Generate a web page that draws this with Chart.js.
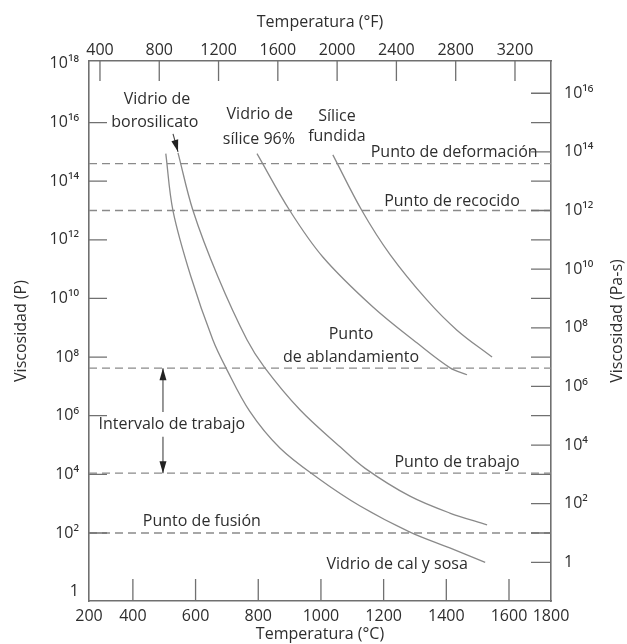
<!DOCTYPE html>
<html>
<head>
<meta charset="utf-8">
<script src="https://cdn.jsdelivr.net/npm/chart.js@4.4.0/dist/chart.umd.min.js"></script>
<style>
  html, body { margin: 0; padding: 0; background: #fff; }
</style>
</head>
<body>
<canvas id="viscChart" width="627" height="644"></canvas>
<script>
// Viscosity (P) against temperature (°C)

const sodaLimeC = [505, 528, 585, 655, 697, 773, 869, 990, 1125, 1284, 1411, 1524];
const sodaLimeP = [8.7e14, 9.8e12, 5.6e10, 3.9e8, 4.3e7, 1.4e6, 7.9e4, 7.5e3, 8.3e2, 1.07e2, 31, 10];

const boroC = [544, 592, 671, 764, 821, 933, 1061, 1141, 1284, 1411, 1530];
const boroP = [9.3e14, 9.8e12, 5.6e10, 3.9e8, 4.3e7, 1.6e6, 8.7e4, 1.6e4, 1.8e3, 4.8e2, 1.9e2];

const silica96C = [796, 901, 1006, 1166, 1307, 1412, 1466];
const silica96P = [8.7e14, 9.8e12, 2.6e11, 5.1e9, 3.0e8, 4.3e7, 2.5e7];

const fusedC = [1038, 1131, 1220, 1338, 1434, 1546];
const fusedP = [7.9e14, 9.8e12, 3.2e11, 8.9e9, 8.3e8, 1.0e8];

// reference viscosity levels (P): strain, annealing, softening, working, melting
const levelNames = ['Punto de deformación', 'Punto de recocido', 'Punto de ablandamiento', 'Punto de trabajo', 'Punto de fusión'];
const levelP = [4.0e14, 1.0e13, 4.2e7, 1.1e4, 1.0e2];

// tick labels
const tempCTicks = [200, 400, 600, 800, 1000, 1200, 1400, 1600, 1800];
const tempFTicks = [400, 800, 1200, 1600, 2000, 2400, 2800, 3200];
const viscPExp = [0, 2, 4, 6, 8, 10, 12, 14, 16, 18];
const viscPaExp = [0, 2, 4, 6, 8, 10, 12, 14, 16];

// axis ranges as printed in the scan (200 and 1800 °C sit on the frame corners)
const cMin = 260, cMax = 1734;
const fMin = 326, fMax = 3443;
const pMin = Math.pow(10, -0.32), pMax = Math.pow(10, 18.1);

const lineColor = '#8a8a8a';
const axisColor = '#707070';
const textColor = '#2e2e2e';
const fontFamily = '"Open Sans", "Noto Sans", sans-serif';

function sup(n) {
  const s = '⁰¹²³⁴⁵⁶⁷⁸⁹';
  return String(n).split('').map(d => s[+d]).join('');
}
function powLabel(e) {
  return e === 0 ? '1' : '10' + sup(e);
}
function pts(xs, ys) {
  return xs.map((x, i) => ({ x: x, y: ys[i] }));
}

const curveStyle = {
  borderColor: lineColor, borderWidth: 1.3, pointRadius: 0,
  fill: false, tension: 0.35
};

const datasets = [
  Object.assign({ label: 'Vidrio de cal y sosa', data: pts(sodaLimeC, sodaLimeP) }, curveStyle),
  Object.assign({ label: 'Vidrio de borosilicato', data: pts(boroC, boroP) }, curveStyle),
  Object.assign({ label: 'Vidrio de sílice 96%', data: pts(silica96C, silica96P) }, curveStyle),
  Object.assign({ label: 'Sílice fundida', data: pts(fusedC, fusedP) }, curveStyle)
];
levelP.forEach((v, i) => {
  datasets.push({
    label: levelNames[i],
    data: [{ x: cMin, y: v }, { x: cMax, y: v }],
    borderColor: lineColor, borderWidth: 1.3, borderDash: [8, 5],
    pointRadius: 0, fill: false
  });
});

// text placed in data units (°C, log10 P)
const notes = [
  ['Vidrio de', 477, 16.78], ['borosilicato', 470, 15.99],
  ['Vidrio de', 805, 16.27], ['sílice 96%', 802, 15.41],
  ['Sílice', 1051, 16.2], ['fundida', 1051, 15.52],
  ['Punto de deformación', 1425, 14.97],
  ['Punto de recocido', 1418, 13.3],
  ['Punto', 1096, 8.76], ['de ablandamiento', 1096, 8.0],
  ['Intervalo de trabajo', 524, 5.69],
  ['Punto de trabajo', 1434, 4.39],
  ['Punto de fusión', 620, 2.38],
  ['Vidrio de cal y sosa', 1243, 0.94]
];

function arrow(ctx, x0, y0, x1, y1) {
  const ang = Math.atan2(y1 - y0, x1 - x0);
  ctx.beginPath();
  ctx.moveTo(x0, y0);
  ctx.lineTo(x1, y1);
  ctx.stroke();
  ctx.beginPath();
  ctx.moveTo(x1, y1);
  ctx.lineTo(x1 - 12 * Math.cos(ang) + 3.5 * Math.sin(ang), y1 - 12 * Math.sin(ang) - 3.5 * Math.cos(ang));
  ctx.lineTo(x1 - 12 * Math.cos(ang) - 3.5 * Math.sin(ang), y1 - 12 * Math.sin(ang) + 3.5 * Math.cos(ang));
  ctx.closePath();
  ctx.fill();
}

const overlay = {
  id: 'overlay',
  afterDraw(chart) {
    const { ctx, chartArea: a, scales } = chart;
    const x = scales.x, xF = scales.xF, y = scales.y, yPa = scales.yPa;
    ctx.save();

    // inward tick marks
    ctx.strokeStyle = axisColor;
    ctx.lineWidth = 1.3;
    ctx.beginPath();
    tempCTicks.forEach(v => {
      if (v <= cMin || v >= cMax) return;
      const px = x.getPixelForValue(v);
      ctx.moveTo(px, a.bottom); ctx.lineTo(px, a.bottom - 22);
    });
    tempFTicks.forEach(v => {
      const px = xF.getPixelForValue(v);
      ctx.moveTo(px, a.top); ctx.lineTo(px, a.top + 20);
    });
    viscPExp.forEach(e => {
      if (e === 0 || e === 18) return;
      const py = y.getPixelForValue(Math.pow(10, e));
      ctx.moveTo(a.left, py); ctx.lineTo(a.left + 18, py);
    });
    for (let e = 0; e <= 16; e++) {
      const py = yPa.getPixelForValue(Math.pow(10, e));
      ctx.moveTo(a.right, py); ctx.lineTo(a.right - 20, py);
    }
    ctx.stroke();

    // labels inside the plot
    ctx.fillStyle = textColor;
    ctx.font = '16px ' + fontFamily;
    ctx.textAlign = 'center';
    ctx.textBaseline = 'middle';
    notes.forEach(n => {
      ctx.fillText(n[0], x.getPixelForValue(n[1]), y.getPixelForValue(Math.pow(10, n[2])));
    });

    // arrows
    ctx.strokeStyle = '#444';
    ctx.fillStyle = '#222';
    ctx.lineWidth = 1.1;
    const bx = x.getPixelForValue(boroC[0]), by = y.getPixelForValue(boroP[0]);
    arrow(ctx, bx - 5, by - 19, bx, by - 1);
    const ax = x.getPixelForValue(496);
    arrow(ctx, ax, y.getPixelForValue(Math.pow(10, 6.13)), ax, y.getPixelForValue(levelP[2]));
    arrow(ctx, ax, y.getPixelForValue(Math.pow(10, 5.28)), ax, y.getPixelForValue(levelP[3]));

    // right-hand axis title, reading bottom to top
    ctx.fillStyle = textColor;
    ctx.translate(617, (a.top + a.bottom) / 2 - 10);
    ctx.rotate(-Math.PI / 2);
    ctx.fillText('Viscosidad (Pa-s)', 0, 0);
    ctx.restore();
  }
};

const tickFont = { family: fontFamily, size: 16 };
const titleFont = { family: fontFamily, size: 16 };

new Chart(document.getElementById('viscChart'), {
  type: 'line',
  data: { datasets: datasets },
  plugins: [overlay],
  options: {
    responsive: false,
    animation: false,
    layout: { padding: 0 },
    plugins: { legend: { display: false }, tooltip: { enabled: false } },
    scales: {
      x: {
        type: 'linear', position: 'bottom', min: cMin, max: cMax,
        afterBuildTicks: s => { s.ticks = tempCTicks.map(v => ({ value: Math.min(Math.max(v, cMin), cMax) })); },
        afterFit: s => { s.height = 43; },
        ticks: { color: textColor, font: tickFont, padding: 6, maxRotation: 0, autoSkip: false,
          callback: (v, i) => String(tempCTicks[i]) },
        grid: { display: false, drawTicks: false },
        border: { display: true, color: axisColor, width: 1.6 },
        title: { display: true, text: 'Temperatura (°C)', color: textColor, font: titleFont, padding: { top: 0, bottom: 0 } }
      },
      xF: {
        type: 'linear', position: 'top', min: fMin, max: fMax,
        afterBuildTicks: s => { s.ticks = tempFTicks.map(v => ({ value: v })); },
        afterFit: s => { s.height = 61; },
        ticks: { color: textColor, font: tickFont, padding: 1, maxRotation: 0, autoSkip: false,
          callback: (v, i) => String(tempFTicks[i]) },
        grid: { display: false, drawTicks: false },
        border: { display: true, color: axisColor, width: 1.6 },
        title: { display: true, text: 'Temperatura (°F)', color: textColor, font: titleFont, padding: { top: 13, bottom: 0 } }
      },
      y: {
        type: 'logarithmic', position: 'left', min: pMin, max: pMax,
        afterBuildTicks: s => { s.ticks = viscPExp.map(e => ({ value: Math.pow(10, e) })); },
        afterFit: s => { s.width = 89; },
        ticks: { color: textColor, font: tickFont, padding: 10, autoSkip: false,
          callback: (v, i) => powLabel(viscPExp[i]) },
        grid: { display: false, drawTicks: false },
        border: { display: true, color: axisColor, width: 1.6 },
        title: { display: true, text: 'Viscosidad (P)', color: textColor, font: titleFont, padding: { top: 12, bottom: 0 } }
      },
      yPa: {
        type: 'logarithmic', position: 'right', min: pMin / 10, max: pMax / 10,
        afterBuildTicks: s => { s.ticks = viscPaExp.map(e => ({ value: Math.pow(10, e) })); },
        afterFit: s => { s.width = 76; },
        ticks: { color: textColor, font: tickFont, padding: 13, autoSkip: false,
          callback: (v, i) => powLabel(viscPaExp[i]) },
        grid: { display: false, drawTicks: false },
        border: { display: true, color: axisColor, width: 1.6 }
      }
    }
  }
});
</script>
</body>
</html>
